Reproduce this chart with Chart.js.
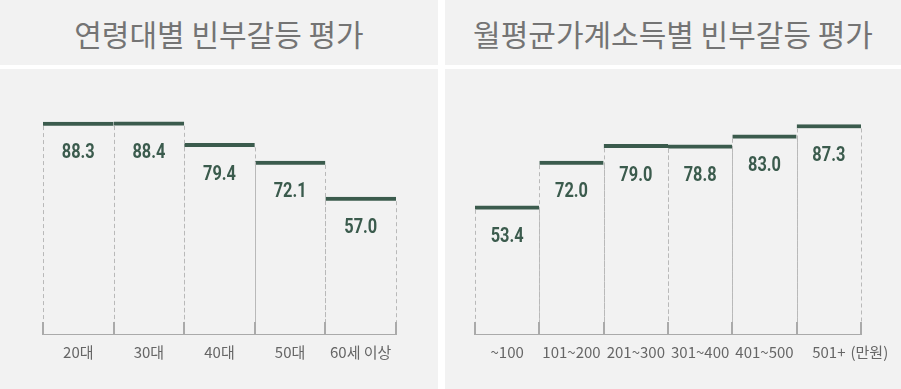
<!DOCTYPE html>
<html>
<head>
<meta charset="utf-8">
<script src="https://cdn.jsdelivr.net/npm/chart.js@4"></script>
<style>
  body { margin: 0; background: #fff; width: 901px; height: 389px; overflow: hidden; position: relative; }
  .panel { position: absolute; background: #f2f2f2; }
  .title { display: flex; align-items: center; justify-content: center; font-family: "Noto Sans CJK KR", sans-serif; font-size: 30px; color: #747474; }
  canvas { display: block; }
</style>
</head>
<body>
<div class="panel title" style="left:0;top:0;width:438px;height:65px;">연령대별 빈부갈등 평가</div>
<div class="panel title" style="left:445px;top:0;width:456px;height:65px;">월평균가계소득별 빈부갈등 평가</div>
<div class="panel" style="left:0;top:69px;width:438px;height:320px;"><canvas id="ageChart" width="438" height="320"></canvas></div>
<div class="panel" style="left:445px;top:69px;width:456px;height:320px;"><canvas id="incomeChart" width="456" height="320"></canvas></div>
<script>
// data
const ageLabels = ['20대', '30대', '40대', '50대', '60세 이상'];
const ageValues = [88.3, 88.4, 79.4, 72.1, 57.0];
const incomeLabels = ['~100', '101~200', '201~300', '301~400', '401~500', '501+'];
const incomeValues = [53.4, 72.0, 79.0, 78.8, 83.0, 87.3];
const incomeUnit = '(만원)';
const yMax = 100;

const green = '#3b5b4d';
const tickFont = { family: '"Noto Sans CJK KR", sans-serif', size: 15 };
const tickPadding = 9;

// dashed sides + little solid ticks at the bottom of each bar
const barFrame = {
  id: 'barFrame',
  afterDatasetsDraw(chart) {
    const ctx = chart.ctx;
    const bottom = chart.chartArea.bottom;
    ctx.save();
    chart.getDatasetMeta(0).data.forEach(bar => {
      const left = bar.x - bar.width / 2;
      const right = bar.x + bar.width / 2;
      [left, right].forEach(x => {
        ctx.strokeStyle = '#b9b9b9';
        ctx.lineWidth = 1;
        ctx.setLineDash([4, 3]);
        ctx.beginPath();
        ctx.moveTo(Math.round(x) + 0.5, bar.y + 4);
        ctx.lineTo(Math.round(x) + 0.5, bottom - 12);
        ctx.stroke();
        ctx.setLineDash([]);
        ctx.strokeStyle = '#aaaaaa';
        ctx.lineWidth = 2;
        ctx.beginPath();
        ctx.moveTo(Math.round(x), bottom - 12);
        ctx.lineTo(Math.round(x), bottom);
        ctx.stroke();
      });
    });
    ctx.restore();
  }
};

// value labels inside the bars, narrowed a bit
const valueLabels = {
  id: 'valueLabels',
  afterDatasetsDraw(chart) {
    const ctx = chart.ctx;
    const values = chart.data.datasets[0].data;
    ctx.save();
    ctx.font = 'bold 21px Roboto, sans-serif';
    ctx.fillStyle = green;
    ctx.textAlign = 'center';
    ctx.textBaseline = 'middle';
    chart.getDatasetMeta(0).data.forEach((bar, i) => {
      ctx.save();
      ctx.translate(bar.x, bar.y + 31);
      ctx.scale(0.78, 1);
      ctx.fillText(values[i].toFixed(1), 0, 0);
      ctx.restore();
    });
    ctx.restore();
  }
};

// unit text after the last category label
const unitLabel = {
  id: 'unitLabel',
  afterDraw(chart, args, opts) {
    if (!opts.text) return;
    const scale = chart.scales.x;
    const last = chart.data.labels.length - 1;
    const ctx = chart.ctx;
    ctx.save();
    ctx.font = tickFont.size + 'px ' + tickFont.family;
    const w = ctx.measureText(chart.data.labels[last]).width;
    ctx.fillStyle = '#666';
    ctx.textAlign = 'left';
    ctx.textBaseline = 'middle';
    ctx.fillText(opts.text, scale.getPixelForTick(last) + w / 2 + 5, scale.top + tickPadding + tickFont.size * 0.6);
    ctx.restore();
  }
};

function makeChart(id, labels, values, padLeft, padRight, unit) {
  return new Chart(document.getElementById(id), {
    type: 'bar',
    data: {
      labels: labels,
      datasets: [{
        data: values,
        backgroundColor: '#f2f2f2',
        borderColor: green,
        borderWidth: { top: 4, left: 0, right: 0, bottom: 0 },
        borderSkipped: false,
        barPercentage: 1,
        categoryPercentage: 1
      }]
    },
    options: {
      responsive: false,
      animation: false,
      layout: { padding: { left: padLeft, right: padRight, top: 25, bottom: 0 } },
      scales: {
        x: {
          offset: true,
          grid: { display: false, drawTicks: false },
          border: { display: true, color: '#aaaaaa', width: 2 },
          ticks: { color: '#666', font: tickFont, padding: tickPadding, maxRotation: 0, autoSkip: false },
          afterFit(scale) { scale.height = 55; }
        },
        y: { display: false, min: 0, max: yMax }
      },
      plugins: {
        legend: { display: false },
        tooltip: { enabled: false },
        unitLabel: { text: unit }
      }
    },
    plugins: [barFrame, valueLabels, unitLabel]
  });
}

makeChart('ageChart', ageLabels, ageValues, 43, 42, '');
makeChart('incomeChart', incomeLabels, incomeValues, 30, 40, incomeUnit);
</script>
</body>
</html>
